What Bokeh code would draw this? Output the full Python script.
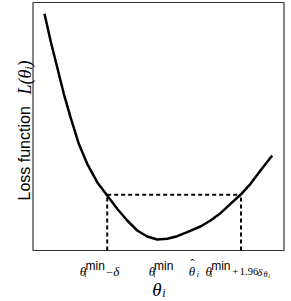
from math import pi
from bokeh.plotting import figure
from bokeh.models import Range1d, Label
from bokeh.embed import file_html
from bokeh.resources import INLINE

# ---- data (arbitrary units) ----
theta = [11.5, 17.5, 24.2, 30.8, 37.5, 45.8, 54.2, 64.2, 74.2, 84.2, 94.2, 104.2,
         114.2, 124.2, 134.2, 144.2, 154.2, 167.5, 177.5, 187.5, 197.5, 207.5,
         217.5, 227.5, 239.2]
loss = [236.7, 210, 183.3, 156.7, 133.3, 106.7, 86.7, 68.3, 55, 41.7, 30, 20,
        14, 11, 11.7, 14.3, 18.3, 24, 30, 37.3, 46.7, 55.7, 66.7, 80, 95]

theta_lo = 74.2      # theta_min - delta
theta_min = 124.5    # theta_min
theta_hat = 159.5    # theta hat
theta_hi = 208.0     # theta_min + 1.96 delta
loss_cut = 55.7      # loss level of the dashed line

# plotting box extent (in data units)
BOX_L, BOX_R, BOX_B, BOX_T = 0.0, 251.0, 0.0, 248.0

SERIF = "Liberation Serif"
SANS = "Liberation Sans"

# whole canvas is the frame; the axes box is drawn explicitly so that all
# texts (which lie outside the box) stay visible
p = figure(width=291, height=301,
           x_range=Range1d(-32.5, 258.5), y_range=Range1d(-51, 250),
           toolbar_location=None, output_backend="svg",
           x_axis_location=None, y_axis_location=None,
           min_border=0, min_border_left=0, min_border_right=0,
           min_border_top=0, min_border_bottom=0)
p.grid.grid_line_color = None
p.outline_line_color = None
p.background_fill_color = "white"
p.border_fill_color = "white"

p.quad(left=[BOX_L], right=[BOX_R], bottom=[BOX_B], top=[BOX_T],
       fill_color=None, line_color="#333333", line_width=1.2)

p.line(theta, loss, line_width=2.5, color="black", line_join="round")
p.segment(x0=[theta_lo, theta_lo, theta_hi], y0=[loss_cut, BOX_B, BOX_B],
          x1=[theta_hi, theta_lo, theta_hi], y1=[loss_cut, loss_cut, loss_cut],
          line_dash="4 3", line_width=2, color="black")


def Y(page_y):
    return 250.0 - page_y


def lab(x, y, text, size, font=SERIF, style="italic", angle=0.0):
    p.add_layout(Label(x=x, y=y, text=text, text_font=font,
                       text_font_size=f"{size}px", text_font_style=style,
                       text_align="left", text_baseline="alphabetic",
                       angle=angle, text_color="black"))


# tick label: theta_i^min - delta
lab(theta_lo - 27.4, Y(271.3), "θ", 13)
lab(theta_lo - 22.9, Y(273.5), "i", 8)
lab(theta_lo - 21.7, Y(265.3), "min", 12, SANS, "normal")
lab(theta_lo - 1.0, Y(271.3), "−", 12, SERIF, "normal")
lab(theta_lo + 6.0, Y(271.3), "δ", 13)

# tick label: theta_i^min
lab(theta_min - 8.7, Y(271.3), "θ", 13)
lab(theta_min - 4.2, Y(273.5), "i", 8)
lab(theta_min - 3.5, Y(265.3), "min", 12, SANS, "normal")

# tick label: theta hat
lab(theta_hat - 3.7, Y(271.3), "θ", 13)
lab(theta_hat - 2.2, Y(263.0), "ˆ", 12, SERIF, "normal")
lab(theta_hat + 4.2, Y(273.5), "i", 8)

# tick label: theta_i^min + 1.96 delta_theta_i
lab(theta_hi - 35.5, Y(271.3), "θ", 13)
lab(theta_hi - 31.0, Y(273.5), "i", 8)
lab(theta_hi - 29.8, Y(265.3), "min", 12, SANS, "normal")
lab(theta_hi - 8.8, Y(271.3), "+", 11, SERIF, "normal")
lab(theta_hi - 1.2, Y(271.3), "1.96", 10.5, SERIF, "normal")
lab(theta_hi + 16.0, Y(271.3), "δ", 11)
lab(theta_hi + 22.5, Y(274), "θ", 8)
lab(theta_hi + 27.3, Y(275), "i", 6)

# x axis title
lab(119.2, Y(289), "θ", 19)
lab(129.2, Y(292), "i", 12)

# y axis title (rotated)
lab(-8.5, Y(200), "Loss function", 16, SANS, "normal", pi / 2)
lab(-8.5, Y(94), "L(θ", 18, SERIF, "italic", pi / 2)
lab(-5.5, Y(69), "i", 11, SERIF, "italic", pi / 2)
lab(-8.5, Y(66), ")", 18, SERIF, "italic", pi / 2)

open("out.html", "w").write(file_html(p, INLINE))
